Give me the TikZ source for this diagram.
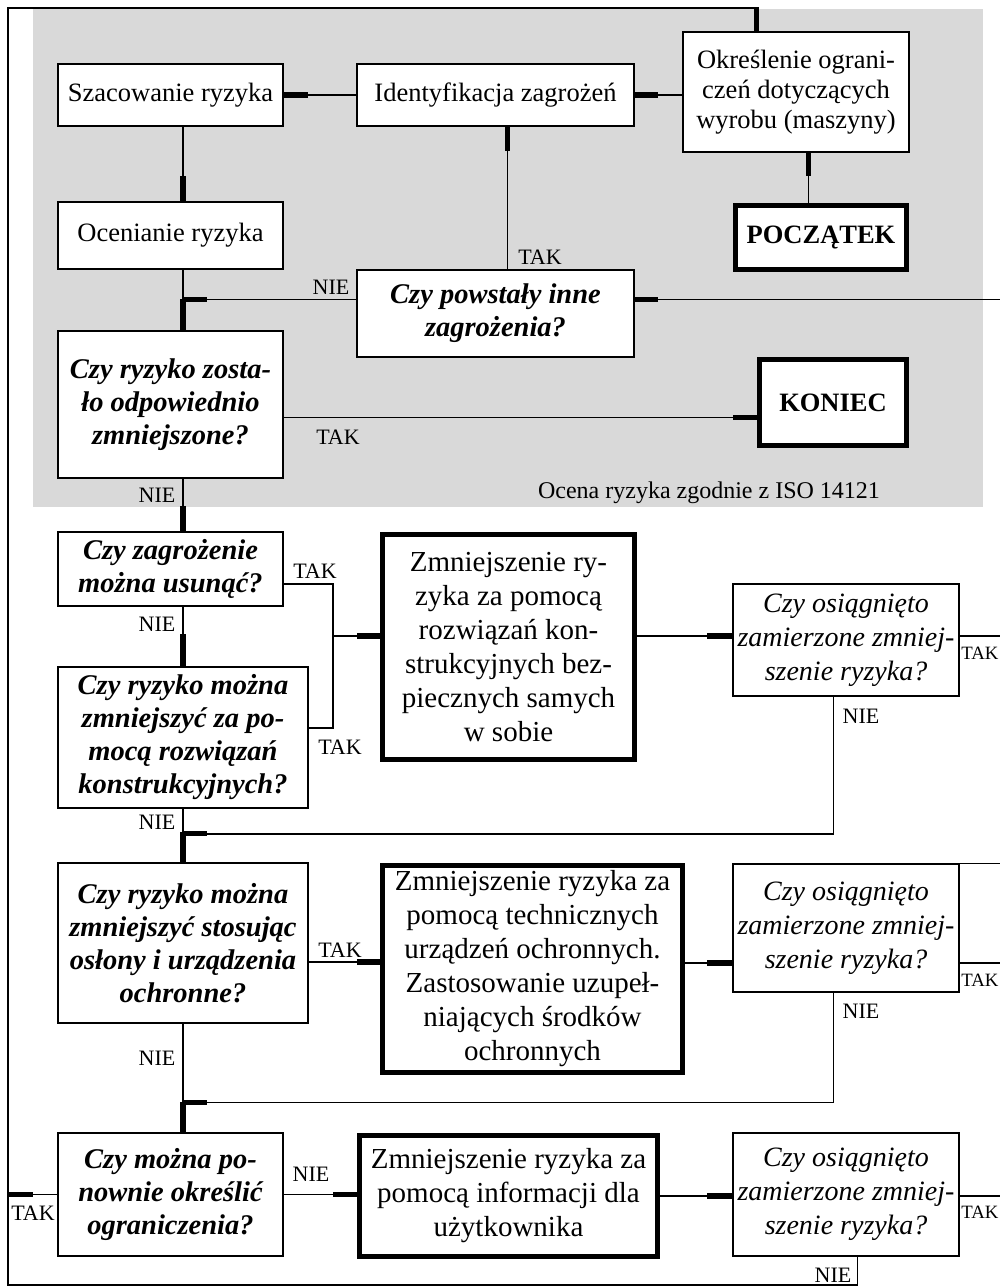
\documentclass[tikz,border=0pt]{standalone}
\usepackage{fontspec}
\setmainfont{Liberation Serif}
\usetikzlibrary{calc}
\definecolor{bgray}{RGB}{217,217,217}
\newcommand\FSm{\fontsize{13.25}{15}\selectfont}
\newcommand\FBg{\fontsize{14.5}{17}\selectfont}
\newcommand\FQ{\fontsize{14.25}{16.5}\selectfont\bfseries\itshape}
\newcommand\FO{\fontsize{14}{17}\selectfont\itshape}
\newcommand\FL{\fontsize{11}{13}\selectfont}
\newcommand\FLs{\fontsize{9.4}{11}\selectfont}
\newcommand\FC{\fontsize{12}{14}\selectfont}
\newcommand\FE{\fontsize{13.25}{15}\selectfont\bfseries}
\begin{document}
\begin{tikzpicture}[x=0.5pt,y=-0.5pt,
  ln/.style={line width=0.75pt},
  stub/.style={line width=2.6pt},
  box/.style={draw,line width=0.75pt,fill=white,inner sep=0pt,align=center},
  sbox/.style={box,font=\FSm},
  tbox/.style={box,line width=2.5pt,font=\FBg},
  ebox/.style={box,line width=2.5pt,font=\FE},
  qbox/.style={box,font=\FQ},
  obox/.style={box,font=\FO},
  lab/.style={inner sep=0pt,font=\FL},
  rlab/.style={inner sep=0pt,font=\FLs,anchor=west}]
\path[use as bounding box,clip] (0,0) rectangle (1000,1287);
\fill[white] (0,0) rectangle (1000,1287);
\fill[bgray] (33,9) rectangle (983,507);

% nodes
\node[sbox,minimum width=112.5pt,minimum height=31pt] (szac) at (170.5,95) {Szacowanie ryzyka};
\node[sbox,minimum width=138.5pt,minimum height=31pt] (ident) at (495.5,95) {Identyfikacja zagrożeń};
\node[sbox,minimum width=113pt,minimum height=60pt] (okr) at (796,92) {Określenie ograni-\\czeń dotyczących\\wyrobu (maszyny)};
\node[sbox,minimum width=112.5pt,minimum height=33.5pt] (ocen) at (170.5,235.5) {Ocenianie ryzyka};
\node[ebox,minimum width=85.5pt,minimum height=32pt] (pocz) at (821,237.5) {POCZĄTEK};
\node[qbox,minimum width=138.5pt,minimum height=43.5pt] (powst) at (495.5,313.5) {Czy powstały inne\\zagrożenia?};
\node[qbox,minimum width=112.5pt,minimum height=73.5pt] (zost) at (170.5,404.5) {Czy ryzyko zosta-\\ło odpowiednio\\zmniejszone?};
\node[ebox,minimum width=73.5pt,minimum height=43pt] (kon) at (833,402.5) {KONIEC};
\node[inner sep=0pt,font=\FC] (capt) at (709,493) {Ocena ryzyka zgodnie z ISO 14121};

\node[qbox,minimum width=112.5pt,minimum height=37pt] (usun) at (170.5,569) {Czy zagrożenie\\można usunąć?};
\node[qbox,minimum width=125pt,minimum height=70.5pt] (konstr) at (183,737.5) {Czy ryzyko można\\zmniejszyć za po-\\mocą rozwiązań\\konstrukcyjnych?};
\node[tbox,minimum width=126pt,minimum height=112.5pt] (red1) at (508.5,647) {Zmniejszenie ry-\\zyka za pomocą\\rozwiązań kon-\\strukcyjnych bez-\\piecznych samych\\w sobie};
\node[obox,minimum width=113pt,minimum height=56pt] (osi1) at (846,640) {Czy osiągnięto\\zamierzone zmniej-\\szenie ryzyka?};

\node[qbox,minimum width=125pt,minimum height=80pt] (oslon) at (183,943) {Czy ryzyko można\\zmniejszyć stosując\\osłony i urządzenia\\ochronne?};
\node[tbox,minimum width=150pt,minimum height=103.5pt] (red2) at (532.5,969) {Zmniejszenie ryzyka za\\pomocą technicznych\\urządzeń ochronnych.\\Zastosowanie uzupeł-\\niających środków\\ochronnych};
\node[obox,minimum width=113pt,minimum height=64pt] (osi2) at (846,928) {Czy osiągnięto\\zamierzone zmniej-\\szenie ryzyka?};

\node[qbox,minimum width=112.5pt,minimum height=61.5pt] (ponow) at (170.5,1194.5) {Czy można po-\\nownie określić\\ograniczenia?};
\node[tbox,minimum width=149pt,minimum height=60.5pt] (red3) at (508.5,1196) {Zmniejszenie ryzyka za\\pomocą informacji dla\\użytkownika};
\node[obox,minimum width=113pt,minimum height=61.5pt] (osi3) at (846,1194.5) {Czy osiągnięto\\zamierzone zmniej-\\szenie ryzyka?};

% helper coordinates
\coordinate (tl) at (8,8);
\coordinate (bl) at (8,1285);
\coordinate (colx) at (183,0);
\coordinate (jx) at (333,0);
\coordinate (re) at (1002,0);
\coordinate (okrin) at ($(okr.north west)+(74,0)$);
\coordinate (okrout) at ($(okr.south west)+(126,0)$);
\coordinate (o3n) at ($(osi3.south west)+(125,0)$);
\coordinate (pl) at ($(powst.north west)+(0,30)$);
\coordinate (pr) at ($(powst.north east)+(0,30)$);
\coordinate (pt) at ($(powst.north west)+(151,0)$);
\coordinate (zt) at ($(zost.east)+(0,13)$);
\coordinate (ut) at ($(usun.east)+(0,15)$);
\coordinate (kt) at ($(konstr.east)+(0,-9.5)$);
\coordinate (r1in) at ($(red1.west)+(0,-11)$);
\coordinate (o1in) at ($(osi1.west)+(0,-4)$);
\coordinate (o1n) at ($(osi1.south west)+(101,0)$);
\coordinate (m1) at ($(konstr.south -| colx)+(0,25)$);
\coordinate (st) at ($(oslon.east)+(0,19)$);
\coordinate (o2in) at ($(osi2.west)+(0,35)$);
\coordinate (o2n) at ($(osi2.south west)+(101,0)$);
\coordinate (m2) at ($(ponow.north -| colx)+(0,-30)$);

% frame and feedback loop
\draw[ln] (o3n) -- (o3n |- bl) -- (bl) -- (tl) -- (tl -| okrin) -- (okrin);
\draw[stub] (okrin) -- ++(0,-24);
\draw[ln] (ponow.west) -- (ponow.west -| tl);
\draw[stub] (ponow.west -| tl) -- ++(25,0);

% top section
\draw[ln] (okrout) -- (okrout |- pocz.north);
\draw[stub] (okrout) -- ++(0,23);
\draw[ln] (okr.west |- ident.east) -- (ident.east);
\draw[stub] (ident.east) -- ++(23,0);
\draw[ln] (ident.west) -- (szac.east);
\draw[stub] (szac.east) -- ++(24,0);
\draw[ln] (szac.south -| colx) -- (ocen.north -| colx);
\draw[stub] (ocen.north -| colx) -- ++(0,-25);
\draw[ln] (ocen.south -| colx) -- (zost.north -| colx);
\draw[stub] (zost.north -| colx) -- ++(0,-31);
\draw[ln] (pl) -- (pl -| colx);
\draw[stub] (pl -| colx) -- ++(24,0);
\draw[ln] (pr) -- (pr -| re);
\draw[stub] (pr) -- ++(23,0);
\draw[ln] (pt) -- (pt |- ident.south);
\draw[stub] (pt |- ident.south) -- ++(0,24);
\draw[ln] (zt) -- (zt -| kon.west);
\draw[stub] (zt -| kon.west) -- ++(-24,0);
\draw[ln] (zost.south -| colx) -- (usun.north -| colx);
\draw[stub] (usun.north -| colx) -- ++(0,-25);

% second section
\draw[ln] (usun.south -| colx) -- (konstr.north -| colx);
\draw[stub] (konstr.north -| colx) -- ++(0,-32);
\draw[ln] (ut) -- (ut -| jx) -- (kt -| jx) -- (kt);
\draw[ln] (r1in -| jx) -- (r1in);
\draw[stub] (r1in) -- ++(-23,0);
\draw[ln] (o1in -| red1.east) -- (o1in);
\draw[stub] (o1in) -- ++(-25,0);
\draw[ln] (o1in -| osi1.east) -- (o1in -| re);
\draw[ln] (o1n) -- (o1n |- m1) -- (m1);
\draw[stub] (m1) -- ++(24,0);

% third section
\draw[ln] (konstr.south -| colx) -- (oslon.north -| colx);
\draw[stub] (oslon.north -| colx) -- ++(0,-30);
\draw[ln] (st) -- (st -| red2.west);
\draw[stub] (st -| red2.west) -- ++(-23,0);
\draw[ln] (o2in -| red2.east) -- (o2in);
\draw[stub] (o2in) -- ++(-25,0);
\draw[ln] (o2in -| osi2.east) -- (o2in -| re);
\draw[ln] (osi2.north east) -- (osi2.north east -| re);
\draw[ln] (o2n) -- (o2n |- m2) -- (m2);
\draw[stub] (m2) -- ++(24,0);

% fourth section
\draw[ln] (oslon.south -| colx) -- (ponow.north -| colx);
\draw[stub] (ponow.north -| colx) -- ++(0,-30);
\draw[ln] (ponow.east) -- (ponow.east -| red3.west);
\draw[stub] (ponow.east -| red3.west) -- ++(-24,0);
\draw[ln] (red3.east) -- (red3.east -| osi3.west);
\draw[stub] (red3.east -| osi3.west) -- ++(-25,0);
\draw[ln] (osi3.east |- red3.east) -- (red3.east -| re);

% labels
\node[lab] (l1) at (540,257) {TAK};
\node[lab] (l2) at (331,287) {NIE};
\node[lab] (l3) at (338,437) {TAK};
\node[lab] (l4) at (157,495) {NIE};
\node[lab] (l5) at (315,571) {TAK};
\node[lab] (l6) at (157,624) {NIE};
\node[lab] (l7) at (340,747) {TAK};
\node[lab] (l8) at (157,822) {NIE};
\node[rlab] (l9) at (961,653) {TAK};
\node[lab] (l10) at (861,716) {NIE};
\node[lab] (l11) at (340,950) {TAK};
\node[lab] (l12) at (157,1058) {NIE};
\node[rlab] (l13) at (961,980) {TAK};
\node[lab] (l14) at (861,1011) {NIE};
\node[lab] (l15) at (311,1174) {NIE};
\node[lab] (l16) at (33,1213) {TAK};
\node[rlab] (l17) at (961,1212) {TAK};
\node[lab] (l18) at (833,1275) {NIE};
\end{tikzpicture}
\end{document}
